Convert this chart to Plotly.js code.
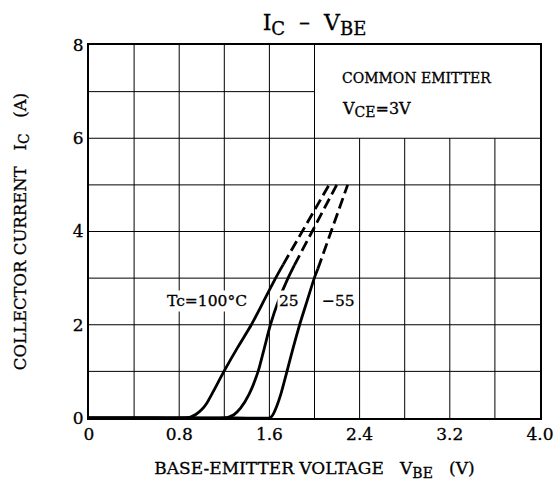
<!DOCTYPE html>
<html><head><meta charset="utf-8">
<script src="https://cdn.plot.ly/plotly-3.0.1.min.js"></script>
<style>body{margin:0;background:#fff}#c{width:555px;height:481px}
#c text{stroke:#000;stroke-width:0.3px}</style>
</head><body><div id="c"></div>
<script>
// Tc = 100 °C
const t100SolidX = [0, 0.6, 0.85, 0.9, 0.95, 1.0, 1.04, 1.1, 1.197, 1.32, 1.44, 1.548, 1.655, 1.722];
const t100SolidY = [0, 0, 0, 0.02, 0.08, 0.18, 0.3, 0.56, 1, 1.52, 2, 2.5, 3, 3.29];
const t100DashX = [1.722, 2.129];
const t100DashY = [3.29, 5.0];
// Tc = 25 °C
const t25SolidX = [0, 0.9, 1.2, 1.24, 1.285, 1.344, 1.418, 1.5, 1.555, 1.609, 1.678, 1.765, 1.822];
const t25SolidY = [0, 0, 0, 0.02, 0.07, 0.21, 0.5, 1, 1.5, 2, 2.5, 3, 3.28];
const t25DashX = [1.822, 2.197];
const t25DashY = [3.28, 5.0];
// Tc = -55 °C
const tm55SolidX = [0, 1.3, 1.6, 1.615, 1.638, 1.665, 1.7, 1.756, 1.81, 1.868, 1.933, 1.998, 2.03];
const tm55SolidY = [0, 0, 0, 0.02, 0.1, 0.25, 0.5, 1, 1.5, 2, 2.5, 3, 3.2];
const tm55DashX = [2.03, 2.294];
const tm55DashY = [3.2, 5.0];

const xTicks = [0, 0.8, 1.6, 2.4, 3.2, 4.0];
const xTickText = ['0', '0.8', '1.6', '2.4', '3.2', '4.0'];
const yTicks = [0, 2, 4, 6, 8];
const xGrid = [0.4, 0.8, 1.2, 1.6, 2.0, 2.4, 2.8, 3.2, 3.6];
const yGrid = [1, 2, 3, 4, 5, 6, 7];

const FONT = 'DejaVu Serif, Liberation Serif, serif';
const solid = {color: '#000', width: 2.8, shape: 'spline', smoothing: 0.6};
const dashed = {color: '#000', width: 2.8, dash: '11px,5px'};
function tr(x, y, line) {
  return {x: x, y: y, type: 'scatter', mode: 'lines', line: line, cliponaxis: false, hoverinfo: 'skip', showlegend: false};
}
const data = [
  tr(t100SolidX, t100SolidY, solid), tr(t100DashX, t100DashY, dashed),
  tr(t25SolidX, t25SolidY, solid), tr(t25DashX, t25DashY, dashed),
  tr(tm55SolidX, tm55SolidY, solid), tr(tm55DashX, tm55DashY, dashed)
];

const shapes = [];
xGrid.forEach(function (v) {
  shapes.push({type: 'line', xref: 'x', yref: 'y', x0: v, x1: v, y0: 0, y1: v > 2.01 ? 6 : 8,
    line: {color: '#000', width: 1}, layer: 'below'});
});
yGrid.forEach(function (v) {
  shapes.push({type: 'line', xref: 'x', yref: 'y', x0: 0, x1: v > 6.5 ? 2.0 : 4.0, y0: v, y1: v,
    line: {color: '#000', width: 1}, layer: 'below'});
});

function sub(t, px) { return '<sub><span style="font-size:' + px + 'px">' + t + '</span></sub>'; }

const layout = {
  width: 555, height: 481,
  margin: {l: 89, r: 15, t: 45, b: 63},
  paper_bgcolor: '#fff', plot_bgcolor: '#fff',
  font: {family: FONT, color: '#000', size: 14},
  title: {text: 'I' + sub('C', 18) + '  –  V' + sub('BE', 18), x: 312, xref: 'paper', xanchor: 'center', y: 21, yref: 'container', yanchor: 'middle',
    font: {family: FONT, size: 22, color: '#000'}},
  xaxis: {range: [0, 4.0], tickvals: xTicks, ticktext: xTickText, showgrid: false, zeroline: false,
    showline: true, mirror: true, linewidth: 2, linecolor: '#000', ticks: '',
    tickfont: {family: FONT, size: 17, color: '#000'},
    title: {text: 'BASE-EMITTER VOLTAGE   V' + sub('BE', 14) + '   (V)', standoff: 20,
      font: {family: FONT, size: 17, color: '#000'}}},
  yaxis: {range: [0, 8], tickvals: yTicks, showgrid: false, zeroline: false,
    showline: true, mirror: true, linewidth: 2, linecolor: '#000', ticks: '',
    tickfont: {family: FONT, size: 17, color: '#000'},
    title: {text: 'COLLECTOR CURRENT   I' + sub('C', 14) + '   (A)', standoff: 42,
      font: {family: FONT, size: 16.5, color: '#000'}}},
  shapes: shapes,
  annotations: [
    {x: 2.23, y: 7.3, xref: 'x', yref: 'y', text: 'COMMON EMITTER', showarrow: false, xanchor: 'left',
      font: {family: FONT, size: 14, color: '#000'}},
    {x: 2.23, y: 6.62, xref: 'x', yref: 'y', text: 'V' + sub('CE', 14) + '=3V', showarrow: false, xanchor: 'left',
      font: {family: FONT, size: 16, color: '#000'}},
    {x: 0.67, y: 2.5, xref: 'x', yref: 'y', text: 'Tc=100°C', showarrow: false, xanchor: 'left',
      bgcolor: '#fff', font: {family: FONT, size: 15.5, color: '#000'}},
    {x: 1.77, y: 2.5, xref: 'x', yref: 'y', text: '25', showarrow: false, xanchor: 'center',
      bgcolor: '#fff', font: {family: FONT, size: 15.5, color: '#000'}},
    {x: 2.05, y: 2.5, xref: 'x', yref: 'y', text: '−55', showarrow: false, xanchor: 'left',
      bgcolor: '#fff', font: {family: FONT, size: 15.5, color: '#000'}}
  ]
};
Plotly.newPlot('c', data, layout, {displayModeBar: false, staticPlot: true});
</script></body></html>
